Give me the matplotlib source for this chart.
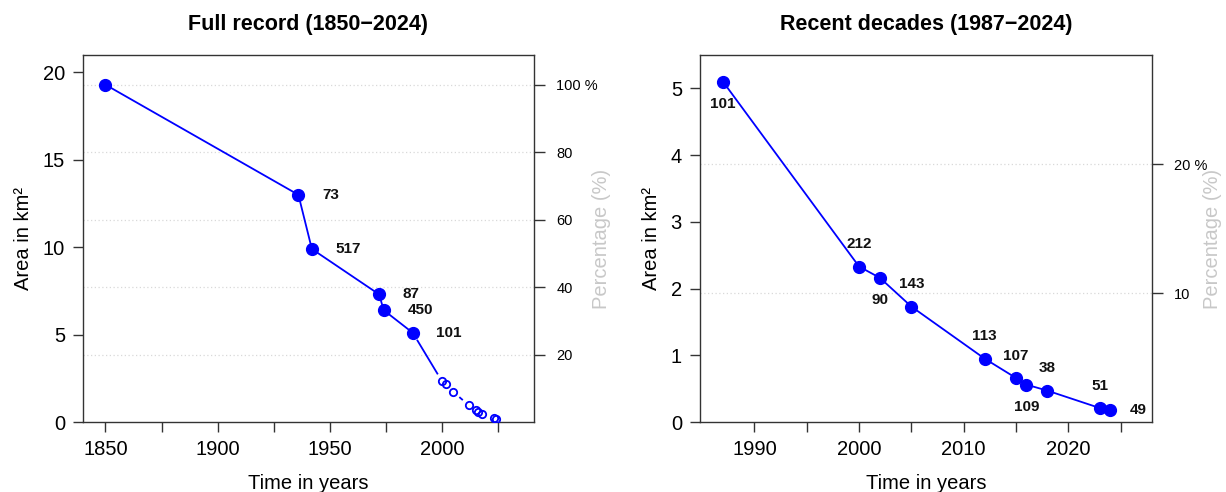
import numpy as np
import matplotlib.pyplot as plt

plt.rcParams['font.family'] = ['Liberation Sans', 'DejaVu Sans']

# glacier area record
years = [1850, 1936, 1942, 1972, 1974, 1987, 2000, 2002, 2005, 2012, 2015, 2016, 2018, 2023, 2024]
area = [19.3, 13.0, 9.9, 7.3, 6.4, 5.1, 2.33, 2.16, 1.73, 0.95, 0.66, 0.56, 0.47, 0.21, 0.18]
loss = [None, 73, 517, 87, 450, 101, 212, 90, 143, 113, 107, 109, 38, 51, 49]

# where the loss labels sit in the right panel (1987 onwards)
recent_pos = ['below', 'above', 'below', 'above', 'above', 'above', 'below', 'above', 'above', 'right']

pct_full = [20, 40, 60, 80, 100]
pct_full_lbl = ['20', '40', '60', '80', '100 %']
pct_recent = [10, 20]
pct_recent_lbl = ['10', '20 %']

BLUE = '#0000ff'
GRID = '#d9d9d9'
SPINE = '#333333'

years = np.array(years)
area = np.array(area)
base = area[0]


def style_axes(ax, xlim, ylim, xticks, xminor, yticks, pct, pct_lbl, label_x):
    ax.set_xlim(*xlim)
    ax.set_ylim(*ylim)
    ax.set_xticks(xticks + xminor)
    ax.set_xticklabels([str(t) for t in xticks] + [''] * len(xminor))
    ax.set_yticks(yticks)
    for s in ax.spines.values():
        s.set_color(SPINE)
        s.set_linewidth(1.0)
    ax.tick_params(direction='out', length=7, width=1, color=SPINE,
                   labelsize=14.5, pad=6)
    ax.set_xlabel('Time in years', fontsize=14.5, labelpad=11)
    ax.set_ylabel('Area in km²', fontsize=14.5, labelpad=7)
    for p in pct:
        ax.axhline(p * base / 100, color=GRID, lw=0.9, ls=(0, (1, 2)), zorder=0)
    ax2 = ax.twinx()
    ax2.set_ylim(0, ylim[1] / base * 100)
    ax2.set_yticks(pct)
    ax2.set_yticklabels(pct_lbl)
    ax2.tick_params(direction='out', length=8, width=1, color=SPINE,
                    labelsize=10.5, pad=8)
    for s in ax2.spines.values():
        s.set_visible(False)
    ax2.set_ylabel('Percentage (%)', fontsize=14.5, color='#c8c8c8')
    ax2.yaxis.set_label_coords(label_x, 0.5)
    return ax2


def gapped_line(ax, x, y, gap=9, **kw):
    # R type="b": segments stop short of each point
    pts = ax.transData.transform(np.column_stack([x, y]))
    inv = ax.transData.inverted()
    for p, q in zip(pts[:-1], pts[1:]):
        d = q - p
        n = np.hypot(*d)
        if n <= 2 * gap:
            continue
        u = d / n
        seg = inv.transform([p + u * gap, q - u * gap])
        ax.plot(seg[:, 0], seg[:, 1], color=BLUE, lw=1.3, **kw)


def put_label(ax, x, y, txt, pos, side_off):
    off = {'right': (side_off, 0, 'left'), 'above': (0, 16, 'center'),
           'below': (0, -16, 'center')}[pos]
    ax.annotate(txt, (x, y), xytext=off[:2], textcoords='offset points',
                ha=off[2], va='center', fontsize=11, fontweight='bold',
                color='#111111')


fig = plt.figure(figsize=(12.26, 4.92), dpi=100)
axL = fig.add_axes([83 / 1226, 70 / 492, 451 / 1226, 367 / 492])
axR = fig.add_axes([700 / 1226, 70 / 492, 452 / 1226, 367 / 492])

# ---- full record
style_axes(axL, (1840, 2041), (0, 21), [1850, 1900, 1950, 2000],
           [1875, 1925, 1975, 2025], [0, 5, 10, 15, 20],
           pct_full, pct_full_lbl, 1.129)
axL.set_title('Full record (1850\u22122024)', fontsize=15.5, fontweight='bold', pad=18)
old = years <= 1987
new = years >= 1987
axL.plot(years[old], area[old], color=BLUE, lw=1.3, marker='o', ms=8.5,
         mfc=BLUE, mec=BLUE, zorder=3)
gapped_line(axL, years[new], area[new])
axL.plot(years[years > 1987], area[years > 1987], ls='none', marker='o', ms=5.3,
         mfc='none', mec=BLUE, mew=1.3, zorder=3)
for x, y, t in zip(years[old], area[old], np.array(loss, dtype=object)[old]):
    if t is not None:
        put_label(axL, x, y, str(t), 'right', 17)

# ---- recent decades
style_axes(axR, (1984.8, 2028), (0, 5.5), [1990, 2000, 2010, 2020],
           [1995, 2005, 2015, 2025], [0, 1, 2, 3, 4, 5],
           pct_recent, pct_recent_lbl, 1.112)
axR.set_title('Recent decades (1987\u22122024)', fontsize=15.5, fontweight='bold', pad=18)
axR.plot(years[new], area[new], color=BLUE, lw=1.3, marker='o', ms=8.5,
         mfc=BLUE, mec=BLUE, zorder=3)
for x, y, t, p in zip(years[new], area[new], np.array(loss, dtype=object)[new], recent_pos):
    put_label(axR, x, y, str(t), p, 14)

fig.savefig('out.png', dpi=100)
